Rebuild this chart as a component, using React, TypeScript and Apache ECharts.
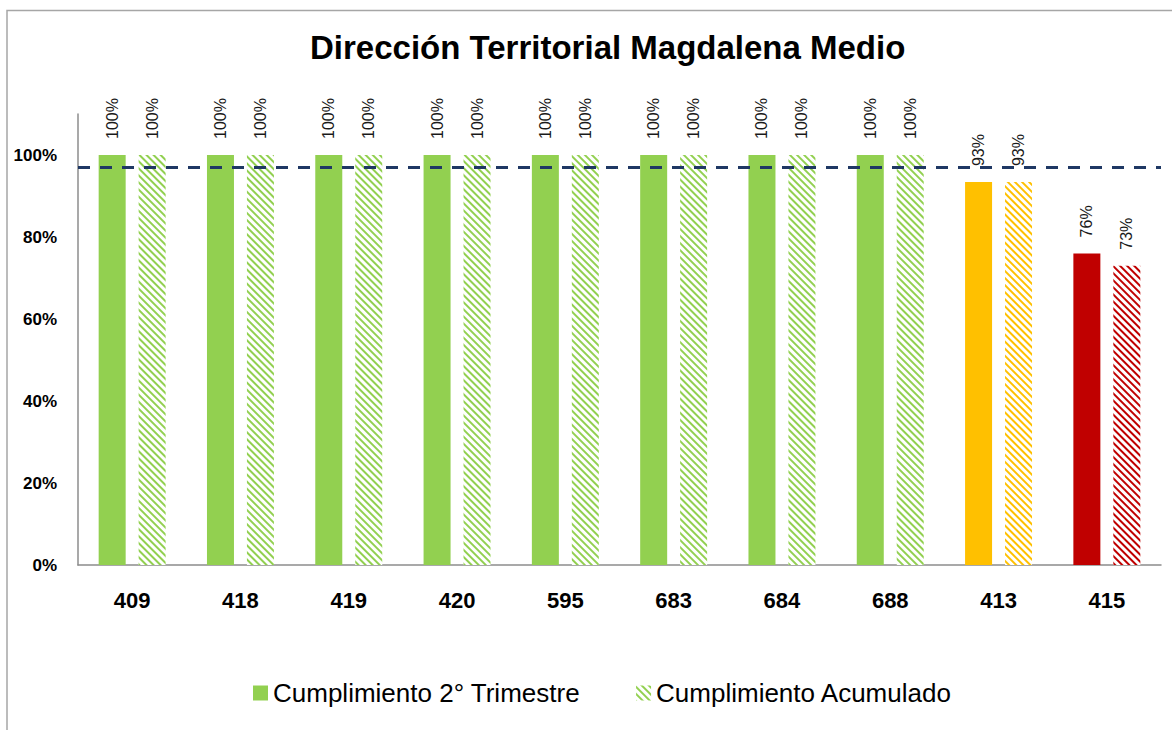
import React, { useEffect, useRef } from "react";
import * as echarts from "echarts";

const categories = ["409", "418", "419", "420", "595", "683", "684", "688", "413", "415"];
const trimestreValues = [1, 1, 1, 1, 1, 1, 1, 1, 0.934, 0.76];
const acumuladoValues = [1, 1, 1, 1, 1, 1, 1, 1, 0.934, 0.73];
const barColors = ["#92D050", "#92D050", "#92D050", "#92D050", "#92D050", "#92D050", "#92D050", "#92D050", "#FFC000", "#C00000"];
const metaValue = 0.97;
const yTicks = [0, 0.2, 0.4, 0.6, 0.8, 1.0];
const seriesNames = ["Cumplimiento 2° Trimestre", "Cumplimiento Acumulado"];
const title = "Dirección Territorial Magdalena Medio";

const FONT = "'Liberation Sans', Arial, sans-serif";

const hatch = (color: string) => ({
  symbol: "rect",
  symbolSize: 1,
  color,
  backgroundColor: "#ffffff",
  dashArrayX: [1, 0],
  dashArrayY: [1.6, 2.6],
  rotation: Math.PI / 4,
});

export default function App() {
  const ref = useRef<HTMLDivElement>(null);

  useEffect(() => {
    if (!ref.current) return;
    const chart = echarts.init(ref.current, undefined, { renderer: "svg" });
    const label = {
      show: true,
      position: "top",
      distance: 16,
      rotate: 90,
      align: "left",
      verticalAlign: "middle",
      fontFamily: FONT,
      fontSize: 16,
      color: "#1a1a1a",
      formatter: (p: any) => Math.round(p.value * 100) + "%",
    };
    chart.setOption({
      animation: false,
      backgroundColor: "#ffffff",
      title: {
        text: title,
        left: 305,
        top: 26,
        textStyle: { fontFamily: FONT, fontSize: 33, fontWeight: "bold", color: "#000000" },
      },
      graphic: [
        {
          type: "rect",
          silent: true,
          z: -10,
          shape: { x: 7, y: 10.5, width: 1300, height: 900 },
          style: { fill: "none", stroke: "#a6a6a6", lineWidth: 1.5 },
        },
      ],
      legend: {
        data: seriesNames,
        left: 248,
        top: 675,
        itemWidth: 15,
        itemHeight: 15,
        itemGap: 56,
        icon: "rect",
        textStyle: { fontFamily: FONT, fontSize: 26, color: "#000000" },
      },
      grid: { left: 78, right: 11, top: 114, bottom: 165, containLabel: false },
      xAxis: {
        type: "category",
        data: categories,
        axisLine: { show: true, lineStyle: { color: "#8c8c8c", width: 1.5 } },
        axisTick: { show: false },
        axisLabel: {
          margin: 24,
          fontFamily: FONT,
          fontSize: 22,
          fontWeight: "bold",
          color: "#000000",
        },
      },
      yAxis: {
        type: "value",
        min: 0,
        max: 1.1,
        interval: 0.2,
        axisLine: { show: true, lineStyle: { color: "#8c8c8c", width: 1.5 } },
        axisTick: { show: false },
        splitLine: { show: false },
        axisLabel: {
          margin: 21,
          fontFamily: FONT,
          fontSize: 17,
          fontWeight: "bold",
          color: "#000000",
          formatter: (v: number) => {
            const hit = yTicks.find((t) => Math.abs(t - v) < 1e-6);
            return hit === undefined ? "" : Math.round(hit * 100) + "%";
          },
        },
      },
      series: [
        {
          name: seriesNames[0],
          type: "bar",
          barWidth: 27,
          barGap: "48%",
          itemStyle: { color: barColors[0] },
          data: trimestreValues.map((v, i) => ({ value: v, itemStyle: { color: barColors[i] } })),
          label,
          markLine: {
            silent: true,
            symbol: "none",
            label: { show: false },
            lineStyle: { color: "#1F3864", width: 3, type: [12, 10] },
            data: [{ yAxis: metaValue }],
          },
        },
        {
          name: seriesNames[1],
          type: "bar",
          barWidth: 27,
          barGap: "48%",
          itemStyle: { color: "#ffffff", decal: hatch(barColors[0]) },
          data: acumuladoValues.map((v, i) => ({
            value: v,
            itemStyle: { color: "#ffffff", decal: hatch(barColors[i]) },
          })),
          label,
        },
      ],
    });
    return () => chart.dispose();
  }, []);

  return (
    <div
      ref={ref}
      style={{ position: "absolute", left: 0, top: 0, width: 1172, height: 730 }}
    />
  );
}
